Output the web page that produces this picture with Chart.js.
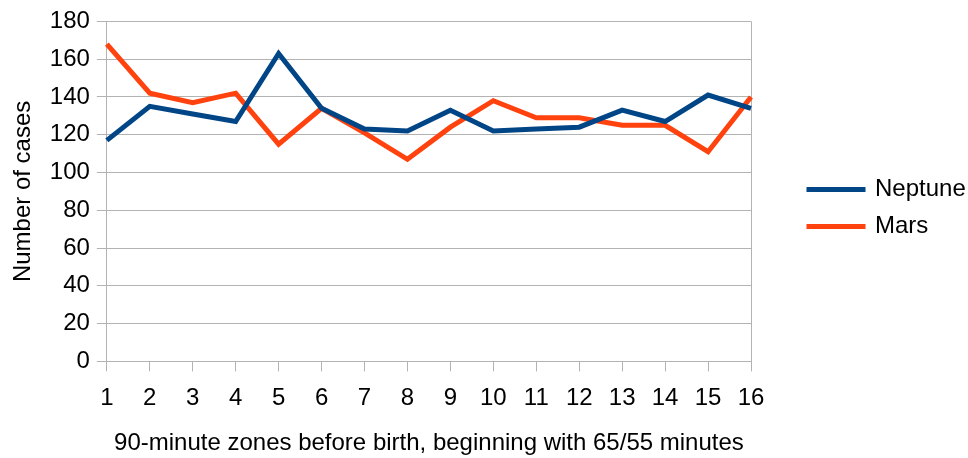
<!DOCTYPE html>
<html>
<head>
<meta charset="utf-8">
<script src="https://cdn.jsdelivr.net/npm/chart.js@4/dist/chart.umd.min.js"></script>
<style>
  html, body { margin: 0; padding: 0; background: #fff; }
  #wrap { width: 968px; height: 458px; }
</style>
</head>
<body>
<div id="wrap"><canvas id="zones"></canvas></div>
<script>
const zones = ["1","2","3","4","5","6","7","8","9","10","11","12","13","14","15","16"];
const neptune = [117, 135, 131, 127, 163, 134, 123, 122, 133, 122, 123, 124, 133, 127, 141, 134];
const mars = [168, 142, 137, 142, 115, 134, 121, 107, 124, 138, 129, 129, 125, 125, 111, 140];

Chart.defaults.font.family = "'Liberation Sans', Arial, sans-serif";
Chart.defaults.font.size = 24;
Chart.defaults.color = '#000';

// legend sits well clear of the plot, like the office-suite original
const legendGap = {
    id: 'legendGap',
    beforeLayout(chart) {
        const lg = chart.legend;
        if (lg && !lg._patched) {
            const fit = lg.fit;
            lg.fit = function() { fit.call(this); this.width = 217; };
            lg._patched = true;
        }
    },
    afterLayout(chart) {
        const lg = chart.legend;
        lg.left += 45; lg.right += 45;
        lg.top -= 27; lg.bottom -= 27;
    }
};

var ctx = document.getElementById("zones").getContext('2d');

var chart = new Chart(ctx, {
    type: 'line',
    plugins: [legendGap],
    data: {
        labels: zones,
        datasets: [{
            label: 'Neptune',
            data: neptune,
            borderColor: '#004586',
            backgroundColor: '#004586',
            borderWidth: 5,
            pointRadius: 0,
            tension: 0
        }, {
            label: 'Mars',
            data: mars,
            borderColor: '#ff420e',
            backgroundColor: '#ff420e',
            borderWidth: 5,
            pointRadius: 0,
            tension: 0
        }]
    },
    options: {
        responsive: true,
        maintainAspectRatio: false,
        animation: false,
        layout: { padding: { top: 12, left: 9, right: 0, bottom: 0 } },
        plugins: {
            legend: {
                position: 'right',
                labels: {
                    boxWidth: 54,
                    boxHeight: 0.1,
                    padding: 13,
                    font: { size: 24 }
                }
            },
            tooltip: { enabled: false }
        },
        scales: {
            x: {
                offset: false,
                grid: {
                    color: c => c.index === 15 ? '#b3b3b3' : 'rgba(0,0,0,0)',
                    tickColor: '#b3b3b3',
                    tickLength: 10
                },
                border: { color: '#b3b3b3' },
                ticks: { maxRotation: 0, autoSkip: false, padding: 13 },
                title: {
                    display: true,
                    text: '90-minute zones before birth, beginning with 65/55 minutes',
                    font: { size: 24 },
                    padding: { top: 3, bottom: 0 }
                }
            },
            y: {
                min: 0,
                max: 180,
                grid: { color: '#b3b3b3', tickColor: '#b3b3b3', tickLength: 10 },
                border: { color: '#b3b3b3' },
                ticks: { stepSize: 20, padding: 7 },
                title: {
                    display: true,
                    text: 'Number of cases',
                    font: { size: 24 },
                    padding: { top: 0, bottom: 5 }
                }
            }
        }
    }
});
</script>
</body>
</html>
